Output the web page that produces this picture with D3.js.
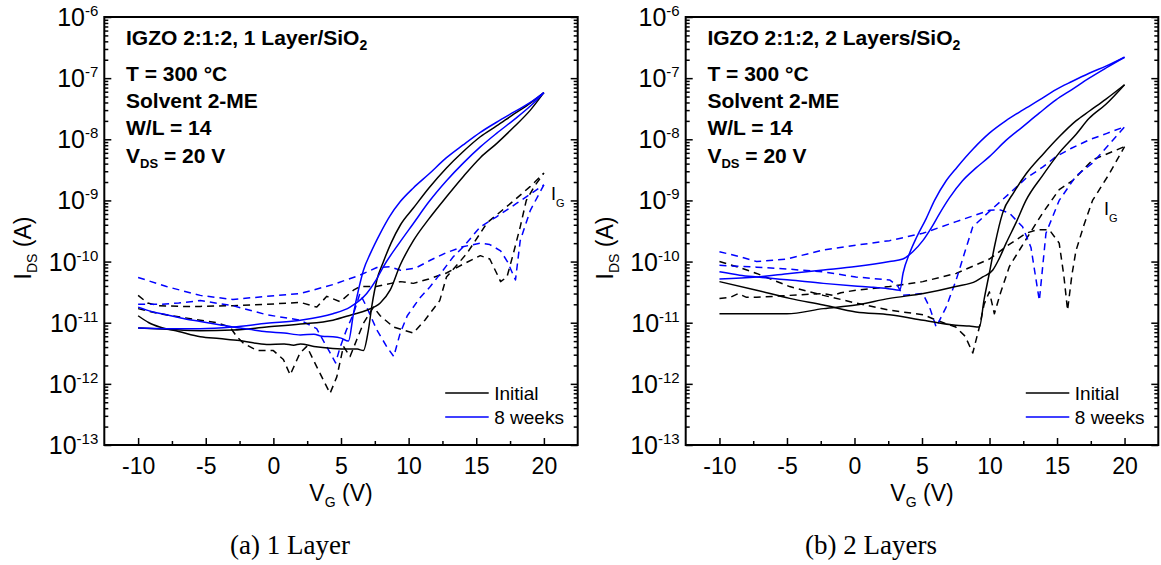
<!DOCTYPE html>
<html>
<head>
<meta charset="utf-8">
<script src="https://cdnjs.cloudflare.com/ajax/libs/d3/7.8.5/d3.min.js"></script>
<style>
  html, body { margin: 0; padding: 0; background: #fff; }
  svg { display: block; }
</style>
</head>
<body>
<svg id="chart" width="1161" height="565"></svg>
<script>
// ---------------- DATA ----------------
const X_TICKS = [-10, -5, 0, 5, 10, 15, 20];
const X_MINOR_TICKS = [-7.5, -2.5, 2.5, 7.5, 12.5, 17.5];
const X_DOMAIN = [-12.5, 22.5];
const Y_EXPONENTS = [-6, -7, -8, -9, -10, -11, -12, -13];
const LEGEND_LABELS = ["Initial", "8 weeks"];
const CAPTIONS = ["(a) 1 Layer", "(b) 2 Layers"];
const TITLES = ["IGZO 2:1:2, 1 Layer/SiO", "IGZO 2:1:2, 2 Layers/SiO"];
const CONDITIONS = ["T = 300 °C", "Solvent 2-ME", "W/L = 14"];
const VDS_TEXT = " = 20 V";

// (a) 1 layer — [V_G (V), current (A)]
const A_INIT_ID_1 = [[-10,1.3e-11],[-9.2,1.0e-11],[-8.4,8.5e-12],[-7,7.2e-12],[-5.4,5.9e-12],[-4,5.5e-12],[-2.5,5.1e-12],[-0.5,4.4e-12],[0.8,4.5e-12],[1.5,4.3e-12],[2,4.5e-12],[3,4.1e-12],[4.4,3.8e-12],[5.5,3.7e-12],[6.2,3.7e-12],[6.66,3.5e-12],[7.0,7e-12],[7.3,2e-11],[7.65,5e-11],[8.1,9.5e-11],[8.7,2e-10],[9.4,4e-10],[10.35,7.5e-10],[11.5,1.6e-9],[12.8,3.4e-9],[14,6.2e-9],[15.3,1.1e-8],[16.5,1.65e-8],[17.8,2.6e-8],[19,3.9e-8],[20,5.8e-8]];
const A_INIT_ID_2 = [[-10,8.2e-12],[-7.9,7.8e-12],[-5.4,7.4e-12],[-3,7.6e-12],[-0.5,8.5e-12],[2,9.5e-12],[4.4,1.1e-11],[5.8,1.35e-11],[6.9,1.6e-11],[7.9,2.1e-11],[8.63,3.4e-11],[9.37,8.7e-11],[10.35,2.2e-10],[11.5,5e-10],[12.8,1.15e-9],[14,2.4e-9],[15.3,5e-9],[16.5,8.5e-9],[17.8,1.6e-8],[19,3e-8],[20,5.8e-8]];
const A_WEEK8_ID_1 = [[-10,1.8e-11],[-8.9,1.5e-11],[-7.9,1.35e-11],[-6.5,1.15e-11],[-5.4,1.05e-11],[-4,9.3e-12],[-3,8.5e-12],[-1.8,7.8e-12],[-0.5,7.1e-12],[0.8,6.8e-12],[2,6.3e-12],[3,6.5e-12],[3.6,6e-12],[4.4,5.9e-12],[5,5.6e-12],[5.55,5e-12],[5.92,1.4e-11],[6.3,3.5e-11],[6.66,7.2e-11],[7.2,1.4e-10],[7.9,2.9e-10],[8.6,5.5e-10],[9.37,9.5e-10],[10.35,1.6e-9],[11.5,2.7e-9],[12.8,5e-9],[14,8e-9],[15.3,1.3e-8],[16.5,1.9e-8],[17.8,2.8e-8],[19,4e-8],[20,5.8e-8]];
const A_WEEK8_ID_2 = [[-10,8.2e-12],[-7.9,8e-12],[-5.4,8e-12],[-3,8.5e-12],[-0.5,9.8e-12],[2,1.1e-11],[4.4,1.4e-11],[5.67,1.8e-11],[6.9,3e-11],[7.6,5e-11],[8.14,8.3e-11],[9.37,2.1e-10],[10.35,4.2e-10],[11.5,9.5e-10],[12.8,2.1e-9],[14,4e-9],[15.3,7.5e-9],[16.5,1.25e-8],[17.8,2.1e-8],[19,3.5e-8],[20,5.8e-8]];
const A_INIT_IG_1 = [[-10,2.8e-11],[-9.3,2.1e-11],[-8.5,1.9e-11],[-7,1.85e-11],[-5.4,1.85e-11],[-3,1.9e-11],[-0.5,2e-11],[2,2.15e-11],[3.21,1.8e-11],[3.95,2.7e-11],[4.94,2.2e-11],[5.92,3.4e-11],[6.4,3.9e-11],[7.6,3.9e-11],[8.7,4.4e-11],[9.4,4.7e-11],[10.35,4.4e-11],[11.5,5.2e-11],[12.8,6.5e-11],[14,9e-11],[15.3,1.25e-10],[16,1.1e-10],[16.5,6.5e-11],[16.8,4.7e-11],[17.27,5.6e-11],[17.76,1.4e-10],[18.25,3.7e-10],[18.7,1e-9],[19.3,1.7e-9],[20,2.8e-9]];
const A_INIT_IG_2 = [[-10,1.7e-11],[-8.4,1.4e-11],[-6.5,1.2e-11],[-5.4,1.1e-11],[-4.2,1e-11],[-3.2,8.5e-12],[-2.7,5.9e-12],[-2.2,4.6e-12],[-1.2,3.5e-12],[0,3.5e-12],[0.74,2.5e-12],[1.24,1.4e-12],[1.97,3.2e-12],[2.47,4.1e-12],[3.21,1.9e-12],[4.19,7e-13],[4.69,1.3e-12],[5.18,4.1e-12],[5.67,2.8e-12],[6.17,5.3e-12],[6.66,9.8e-12],[7.4,1.8e-11],[7.9,1.3e-11],[8.88,8.5e-12],[10.35,6.8e-12],[11.2,1.1e-11],[12.3,2.3e-11],[12.8,5.6e-11],[14.3,1.35e-10],[15.8,4.3e-10],[17.8,1e-9],[19,1.7e-9],[20,2.8e-9]];
const A_WEEK8_IG_1 = [[-10,5.5e-11],[-7.9,3.9e-11],[-5.4,2.8e-11],[-3,2.4e-11],[-0.5,2.7e-11],[2,3e-11],[4.4,4.2e-11],[6.4,6e-11],[7.65,8e-11],[8.6,8.2e-11],[9.4,7.2e-11],[10.5,7.8e-11],[11.6,1.05e-10],[12.8,1.4e-10],[14,1.75e-10],[15.3,2e-10],[16,1.9e-10],[16.8,1.5e-10],[17.3,1e-10],[17.9,5e-11],[18.25,2.2e-10],[19,6.9e-10],[20,1.8e-9]];
const A_WEEK8_IG_2 = [[-10,2e-11],[-8.4,2e-11],[-7,2.1e-11],[-5.4,2.3e-11],[-3,1.9e-11],[-0.5,1.35e-11],[2,1.1e-11],[3.2,8e-12],[4.2,3.2e-12],[4.6,2.2e-12],[4.94,4e-12],[5.4,7.6e-12],[5.92,1.4e-11],[6.4,3e-11],[6.9,1.8e-11],[7.65,7.6e-12],[8.4,4e-12],[8.9,2.8e-12],[9.37,6.7e-12],[9.9,1.3e-11],[10.8,2.5e-11],[11.6,3.9e-11],[12.5,7e-11],[13.3,1.2e-10],[14.05,1.75e-10],[15.3,3.7e-10],[16.5,5.4e-10],[18,9e-10],[20,1.8e-9]];

// (b) 2 layers — [V_G (V), current (A)]
const B_INIT_ID_1 = [[-10,4.7e-11],[-7.25,3.4e-11],[-4.8,2.5e-11],[-2.3,1.95e-11],[0.1,1.5e-11],[2.6,1.35e-11],[5.1,1.1e-11],[7.5,9.1e-12],[8.5,8.8e-12],[9.25,8.5e-12],[9.6,2.4e-11],[9.99,6.5e-11],[10.4,1.9e-10],[10.97,6.2e-10],[11.8,1.35e-9],[12.7,2.7e-9],[13.9,5.5e-9],[15.16,1.1e-8],[16.4,2e-8],[17.4,2.9e-8],[18.6,4.5e-8],[20,7.8e-8]];
const B_INIT_ID_2 = [[-10,1.4e-11],[-7.25,1.4e-11],[-5,1.4e-11],[-2.3,1.7e-11],[0.1,1.95e-11],[2.6,2.5e-11],[5.1,3e-11],[7.5,3.9e-11],[9.0,4.8e-11],[9.5,5.6e-11],[10.23,7.2e-11],[10.7,1.1e-10],[11.23,2e-10],[12,4.5e-10],[12.7,1e-9],[13.9,2.5e-9],[15.16,6e-9],[16.4,1.2e-8],[17.38,2.2e-8],[18.6,3.7e-8],[20,7.8e-8]];
const B_WEEK8_ID_1 = [[-10,6.8e-11],[-8.5,6e-11],[-7.25,5.6e-11],[-4.8,5e-11],[-2.3,4.4e-11],[0,4e-11],[1.4,3.8e-11],[2.5,3.6e-11],[3.36,3.4e-11],[3.6,6.5e-11],[4.1,1.4e-10],[4.6,2.5e-10],[5.3,5e-10],[5.93,1e-9],[6.79,2.1e-9],[7.6,3.5e-9],[8.8,7e-9],[9.99,1.26e-8],[11.2,2e-8],[12.45,3e-8],[13.7,4.4e-8],[14.92,6.5e-8],[16.1,8.8e-8],[17.38,1.2e-7],[18.7,1.6e-7],[20,2.2e-7]];
const B_WEEK8_ID_2 = [[-10,5.2e-11],[-7.25,5.6e-11],[-4.8,6.4e-11],[-2.3,7.3e-11],[0.1,8.3e-11],[2.6,1e-10],[3.58,1.1e-10],[4.32,1.45e-10],[5.06,2.2e-10],[5.7,3.6e-10],[6.3,6.1e-10],[7.03,1.1e-9],[8.0,2.1e-9],[9,3.4e-9],[9.99,5.2e-9],[11.2,9.5e-9],[12.45,1.6e-8],[13.7,2.7e-8],[14.92,4.4e-8],[16.1,6.5e-8],[17.38,1e-7],[18.7,1.5e-7],[20,2.2e-7]];
const B_INIT_IG_1 = [[-10,1e-10],[-8.5,8e-11],[-7.25,6.4e-11],[-4.8,3.9e-11],[-2.3,2.8e-11],[0.1,2.1e-11],[2.6,1.6e-11],[5.1,1.35e-11],[6.05,1.1e-11],[7.5,8.5e-12],[8.2,6e-12],[8.76,3.2e-12],[9.25,8.5e-12],[9.6,2e-11],[9.99,3.2e-11],[10.36,1.4e-11],[10.8,3e-11],[11.47,8.3e-11],[12.7,2.3e-10],[13.93,6.2e-10],[15.16,1.5e-9],[16.15,2.1e-9],[17.63,4.6e-9],[20,7.6e-9]];
const B_INIT_IG_2 = [[-10,2.5e-11],[-9.2,2.6e-11],[-8.6,3e-11],[-8,2.6e-11],[-7.25,2.6e-11],[-4.8,2.8e-11],[-2.3,3e-11],[-1.6,2.8e-11],[-1,3.1e-11],[0.1,3.4e-11],[2.6,3.9e-11],[5.06,4.7e-11],[7.53,6.4e-11],[9.99,1.1e-10],[11.3,1.8e-10],[12.7,2.9e-10],[13.5,3.3e-10],[14.43,3.3e-10],[15.16,2e-10],[15.5,6e-11],[15.78,1.6e-11],[16.1,6e-11],[16.4,1.5e-10],[17.0,4e-10],[17.63,1e-9],[18.86,2.7e-9],[20,7.6e-9]];
const B_WEEK8_IG_1 = [[-10,1.45e-10],[-8.5,1.2e-10],[-7.25,1e-10],[-5,1.1e-10],[-2.3,1.55e-10],[0.1,1.85e-10],[2.6,2.2e-10],[5.06,2.9e-10],[7.53,4.5e-10],[9.99,6.9e-10],[10.8,7e-10],[11.47,6.2e-10],[12.45,3.7e-10],[13.07,1.7e-10],[13.69,2.3e-11],[14.18,2.9e-10],[15.16,1e-9],[16.4,2.5e-9],[17.63,4.1e-9],[18.8,8e-9],[20,1.6e-8]];
const B_WEEK8_IG_2 = [[-10,8.7e-11],[-7.25,8.1e-11],[-4.8,7.5e-11],[-2.3,6.8e-11],[0.1,5.6e-11],[2.6,5e-11],[3.2,4e-11],[3.58,2.8e-11],[4.3,2.9e-11],[5.06,3e-11],[5.56,1.8e-11],[6.05,8.5e-12],[6.79,1.8e-11],[7.53,5e-11],[8.2,1.5e-10],[8.76,3.7e-10],[9.99,6.6e-10],[11.47,1.3e-9],[12.7,2.3e-9],[13.93,3.5e-9],[14.92,5.2e-9],[16.1,7.2e-9],[17.38,9.8e-9],[18.7,1.25e-8],[20,1.6e-8]];

// ---------------- STYLE / LAYOUT ----------------
const SANS = "'Liberation Sans', Arial, Helvetica, sans-serif";
const SERIF = "'Liberation Serif', 'Times New Roman', serif";
const COLOR_INIT = "#000000";
const COLOR_W8 = "#0000ff";
const DASH = "7,5";

const panels = [
  {
    left: 104.3, right: 577.7, top: 17, bottom: 445,
    title: TITLES[0], caption: CAPTIONS[0], captionX: 290,
    igX: 551, igY: 200,
    series: [
      { data: A_INIT_IG_1, color: COLOR_INIT, dash: true },
      { data: A_INIT_IG_2, color: COLOR_INIT, dash: true },
      { data: A_WEEK8_IG_1, color: COLOR_W8, dash: true },
      { data: A_WEEK8_IG_2, color: COLOR_W8, dash: true },
      { data: A_INIT_ID_1, color: COLOR_INIT, dash: false },
      { data: A_INIT_ID_2, color: COLOR_INIT, dash: false },
      { data: A_WEEK8_ID_1, color: COLOR_W8, dash: false },
      { data: A_WEEK8_ID_2, color: COLOR_W8, dash: false }
    ]
  },
  {
    left: 685.7, right: 1158.3, top: 17, bottom: 445,
    title: TITLES[1], caption: CAPTIONS[1], captionX: 871,
    igX: 1104, igY: 215,
    series: [
      { data: B_INIT_IG_1, color: COLOR_INIT, dash: true },
      { data: B_INIT_IG_2, color: COLOR_INIT, dash: true },
      { data: B_WEEK8_IG_1, color: COLOR_W8, dash: true },
      { data: B_WEEK8_IG_2, color: COLOR_W8, dash: true },
      { data: B_INIT_ID_1, color: COLOR_INIT, dash: false },
      { data: B_INIT_ID_2, color: COLOR_INIT, dash: false },
      { data: B_WEEK8_ID_1, color: COLOR_W8, dash: false },
      { data: B_WEEK8_ID_2, color: COLOR_W8, dash: false }
    ]
  }
];

const svg = d3.select("#chart");
svg.append("rect").attr("width", 1161).attr("height", 565).attr("fill", "#fff");

function rich(sel, parts) {
  parts.forEach(p => {
    const t = sel.append("tspan").text(p.t);
    if (p.size) t.attr("font-size", p.size);
    if (p.dy) t.attr("dy", p.dy);
  });
  return sel;
}

panels.forEach((p, pi) => {
  const g = svg.append("g");
  const x = d3.scaleLinear().domain(X_DOMAIN).range([p.left, p.right]);
  const y = d3.scaleLog().domain([1e-13, 1e-6]).range([p.bottom, p.top]);

  const majorY = Y_EXPONENTS.map(e => Math.pow(10, e));
  const minorY = [];
  for (let e = -13; e < -6; e++) for (let m = 2; m <= 9; m++) minorY.push(m * Math.pow(10, e));

  // curves
  const curves = g.append("g");
  p.series.forEach(s => {
    const line = d3.line()
      .x(d => x(d[0]))
      .y(d => y(d[1]))
      .curve(s.dash ? d3.curveLinear : d3.curveMonotoneX);
    curves.append("path")
      .attr("d", line(s.data))
      .attr("fill", "none")
      .attr("stroke", s.color)
      .attr("stroke-width", 1.5)
      .attr("stroke-linejoin", "round")
      .attr("stroke-dasharray", s.dash ? DASH : null);
  });

  // axes ticks (inward)
  const styleAxis = a => { a.select(".domain").remove(); a.selectAll(".tick line").attr("stroke-width", 1.5); };
  g.append("g").attr("transform", `translate(${p.left},0)`)
    .call(d3.axisLeft(y).tickValues(majorY).tickSize(-7).tickFormat("")).call(styleAxis);
  g.append("g").attr("transform", `translate(${p.left},0)`)
    .call(d3.axisLeft(y).tickValues(minorY).tickSize(-4).tickFormat("")).call(styleAxis);
  g.append("g").attr("transform", `translate(${p.right},0)`)
    .call(d3.axisRight(y).tickValues(majorY).tickSize(-7).tickFormat("")).call(styleAxis);
  g.append("g").attr("transform", `translate(${p.right},0)`)
    .call(d3.axisRight(y).tickValues(minorY).tickSize(-4).tickFormat("")).call(styleAxis);

  const xAxis = g.append("g").attr("transform", `translate(0,${p.bottom})`)
    .call(d3.axisBottom(x).tickValues(X_TICKS).tickSize(-7).tickPadding(13).tickFormat(d => String(d)))
    .call(styleAxis);
  xAxis.selectAll("text").attr("font-size", 23).attr("font-family", SANS).attr("fill", "#000");
  g.append("g").attr("transform", `translate(0,${p.bottom})`)
    .call(d3.axisBottom(x).tickValues(X_MINOR_TICKS).tickSize(-4).tickFormat(""))
    .call(styleAxis);

  // frame
  g.append("rect")
    .attr("x", p.left).attr("y", p.top)
    .attr("width", p.right - p.left).attr("height", p.bottom - p.top)
    .attr("fill", "none").attr("stroke", "#000").attr("stroke-width", 2);

  // y tick labels
  Y_EXPONENTS.forEach(e => {
    const t = g.append("text")
      .attr("x", p.left - 6).attr("y", y(Math.pow(10, e)) + 9)
      .attr("text-anchor", "end").attr("font-family", SANS).attr("font-size", 25).attr("fill", "#000");
    rich(t, [{ t: "10" }, { t: String(e), size: 15, dy: -10 }]);
  });

  // axis titles
  const yt = g.append("text")
    .attr("transform", `translate(${p.left - 73},${(p.top + p.bottom) / 2 + 17}) rotate(-90)`)
    .attr("text-anchor", "middle").attr("font-family", SANS).attr("font-size", 23).attr("fill", "#000");
  rich(yt, [{ t: "I" }, { t: "DS", size: 14, dy: 6 }, { t: " (A)", dy: -6 }]);

  const xt = g.append("text")
    .attr("x", (p.left + p.right) / 2).attr("y", 501)
    .attr("text-anchor", "middle").attr("font-family", SANS).attr("font-size", 23).attr("fill", "#000");
  rich(xt, [{ t: "V" }, { t: "G", size: 14, dy: 6 }, { t: " (V)", dy: -6 }]);

  // annotations
  const ax = p.left + 21.7;
  const ann = g.append("g").attr("font-family", SANS).attr("font-weight", "bold").attr("font-size", 21).attr("fill", "#000");
  rich(ann.append("text").attr("x", ax).attr("y", 45), [{ t: p.title }, { t: "2", size: 14, dy: 5 }]);
  CONDITIONS.forEach((c, i) => {
    ann.append("text").attr("x", ax).attr("y", 80.7 + i * 27.3).text(c);
  });
  rich(ann.append("text").attr("x", ax).attr("y", 163.3),
    [{ t: "V" }, { t: "DS", size: 13, dy: 5 }, { t: VDS_TEXT, dy: -5 }]);

  // I_G label
  rich(g.append("text").attr("x", p.igX).attr("y", p.igY)
      .attr("font-family", SANS).attr("font-size", 18).attr("fill", "#000"),
    [{ t: "I" }, { t: "G", size: 11, dy: 7 }]);

  // legend
  const legColors = [COLOR_INIT, COLOR_W8];
  LEGEND_LABELS.forEach((lab, i) => {
    const ly = p.bottom - 52 + i * 24;
    g.append("line")
      .attr("x1", p.right - 132.5).attr("x2", p.right - 89)
      .attr("y1", ly).attr("y2", ly)
      .attr("stroke", legColors[i]).attr("stroke-width", 1.5);
    g.append("text")
      .attr("x", p.right - 83.5).attr("y", ly + 7)
      .attr("font-family", SANS).attr("font-size", 19).attr("fill", "#000")
      .text(lab);
  });

  // caption
  svg.append("text")
    .attr("x", p.captionX).attr("y", 554)
    .attr("text-anchor", "middle").attr("font-family", SERIF).attr("font-size", 27).attr("fill", "#000")
    .text(p.caption);
});
</script>
</body>
</html>
